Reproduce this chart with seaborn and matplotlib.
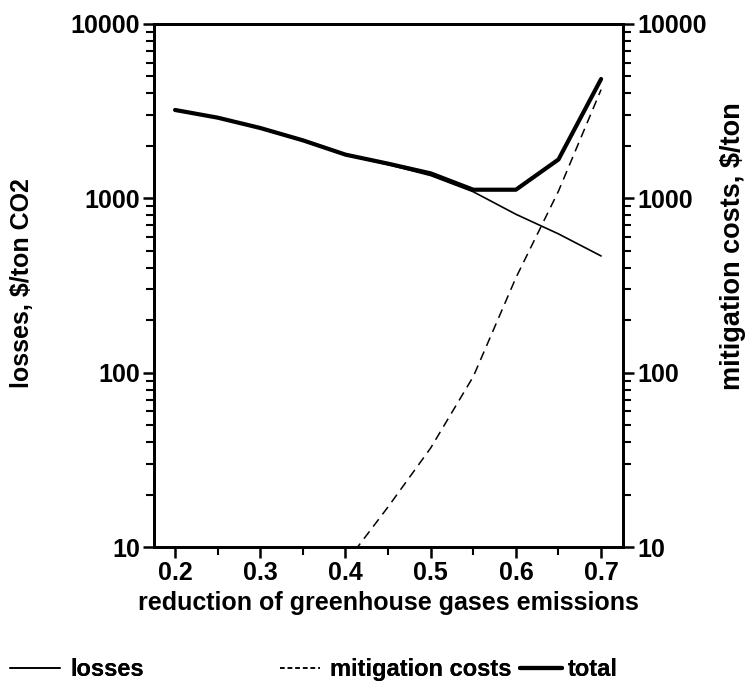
import matplotlib
matplotlib.use("Agg")
import matplotlib.pyplot as plt
from matplotlib.lines import Line2D
from matplotlib.ticker import LogLocator, FixedLocator, NullFormatter
import seaborn as sns
import pandas as pd

# reduction share and cost series ($/ton CO2)
reduction = [0.2, 0.25, 0.3, 0.35, 0.4, 0.45, 0.5, 0.55, 0.6, 0.65, 0.7]
losses = [3210, 2900, 2530, 2150, 1770, 1560, 1350, 1090, 810, 625, 467]
mitigation_x = [0.4, 0.45, 0.5, 0.55, 0.6, 0.65, 0.7]
mitigation = [8.1, 17, 37, 95, 350, 1100, 4200]
total = [3210, 2900, 2530, 2150, 1780, 1580, 1390, 1120, 1120, 1670, 4830]

x_ticks = [0.2, 0.3, 0.4, 0.5, 0.6, 0.7]
y_ticks = [10, 100, 1000, 10000]

sns.set_theme(style="ticks")
plt.rcParams["font.family"] = ["Liberation Sans", "DejaVu Sans"]
plt.rcParams["font.weight"] = "bold"
plt.rcParams["axes.labelweight"] = "bold"
plt.rcParams["axes.labelcolor"] = "black"
plt.rcParams["text.color"] = "black"

fig = plt.figure(figsize=(7.5, 6.83), dpi=100)
ax = fig.add_axes([0.205, 0.199, 0.626, 0.766])

df_main = pd.DataFrame({"x": reduction, "losses": losses, "total": total})
df_mit = pd.DataFrame({"x": mitigation_x, "mitigation": mitigation})

sns.lineplot(data=df_main, x="x", y="losses", ax=ax, color="black", lw=1.2)
sns.lineplot(data=df_mit, x="x", y="mitigation", ax=ax, color="black", lw=1.1,
             linestyle=(0, (6, 4)))
sns.lineplot(data=df_main, x="x", y="total", ax=ax, color="black", lw=3.0)

ax.set_yscale("log")
ax.set_ylim(10, 10000)
ax.set_xlim(0.175, 0.726)
ax.set_xticks(x_ticks)
ax.set_xticklabels([f"{v:.1f}" for v in x_ticks])
ax.xaxis.set_minor_locator(FixedLocator([0.25, 0.35, 0.45, 0.55, 0.65]))
ax.set_yticks(y_ticks)
ax.set_yticklabels([str(v) for v in y_ticks])
ax.yaxis.set_minor_locator(LogLocator(base=10, subs=range(2, 10)))
ax.yaxis.set_minor_formatter(NullFormatter())

fs = 18
ax.tick_params(axis="both", which="major", direction="out", length=8, width=1.8,
               labelsize=fs, pad=2, color="black", labelcolor="black")
ax.tick_params(axis="both", which="minor", direction="out", length=6, width=1.5,
               color="black")
for s in ax.spines.values():
    s.set_linewidth(2)
    s.set_color("black")

ax.set_xlabel("reduction of greenhouse gases emissions", fontsize=fs, labelpad=4)
ax.set_ylabel("losses, $/ton CO2", fontsize=fs)
ax.yaxis.set_label_coords(-0.254, 0.505)

ax2 = ax.twinx()
ax2.set_yscale("log")
ax2.set_ylim(10, 10000)
ax2.set_yticks(y_ticks)
ax2.set_yticklabels([str(v) for v in y_ticks])
ax2.yaxis.set_minor_locator(LogLocator(base=10, subs=range(2, 10)))
ax2.yaxis.set_minor_formatter(NullFormatter())
ax2.tick_params(axis="y", which="major", direction="out", length=8, width=1.8,
                labelsize=fs, pad=2, color="black", labelcolor="black")
ax2.tick_params(axis="y", which="minor", direction="out", length=6, width=1.5,
                color="black")
ax2.set_ylabel("mitigation costs, $/ton", fontsize=19.5)
ax2.yaxis.set_label_coords(1.207, 0.575)
for s in ax2.spines.values():
    s.set_linewidth(2)
    s.set_color("black")

handles = [
    Line2D([], [], color="black", lw=1.2),
    Line2D([], [], color="black", lw=1.1, linestyle=(0, (3, 2))),
    Line2D([], [], color="black", lw=3.0),
]
labels = ["losses", "mitigation costs", "total"]
positions = [0.0133, 0.373, 0.693]
lengths = [2.1, 1.7, 1.8]
pads = [0.45, 0.42, 0.25]
for h, lab, px, hl, tp in zip(handles, labels, positions, lengths, pads):
    leg = fig.legend([h], [lab], loc="center left", bbox_to_anchor=(px, 0.02),
                     frameon=False, fontsize=17, handlelength=hl,
                     handletextpad=tp, borderaxespad=0, borderpad=0)
    fig.add_artist(leg)

fig.savefig("out.png", dpi=100)
